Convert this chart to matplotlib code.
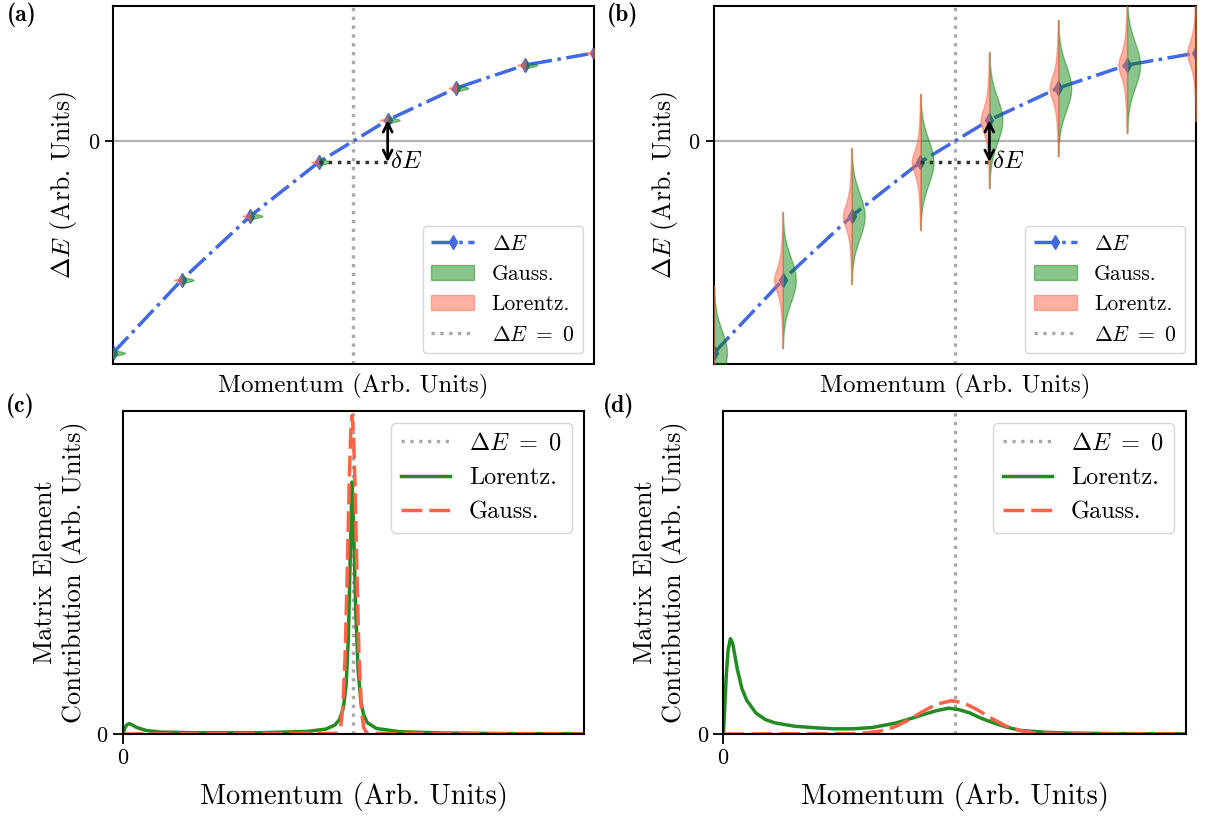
import numpy as np
import matplotlib
matplotlib.use("Agg")
import matplotlib.pyplot as plt
from matplotlib.patches import Patch
from matplotlib.lines import Line2D

plt.rcParams['font.family'] = 'serif'
plt.rcParams['font.serif'] = ['cmr10']
plt.rcParams['mathtext.fontset'] = 'cm'
plt.rcParams['axes.unicode_minus'] = False
plt.rcParams['axes.formatter.use_mathtext'] = True

# ---- (a)/(b): dispersion with violins ----
momentum = [0, 1, 2, 3, 4, 5, 6, 7]
delta_e = [-212, -139, -75, -21, 21, 53, 76, 88]
k_zero = 3.5

# half violin profiles (relative width) at relative heights 0, 0.1, ..., 1
profile_t = [0.0, 0.1, 0.2, 0.3, 0.4, 0.5, 0.6, 0.7, 0.8, 0.9, 1.0]
gauss_profile = [1.0, 0.955, 0.83, 0.66, 0.48, 0.32, 0.19, 0.105, 0.053, 0.024, 0.01]
lorentz_profile = [1.0, 0.85, 0.59, 0.39, 0.26, 0.19, 0.14, 0.105, 0.083, 0.066, 0.054]

# ---- (c): sharp case ----
c_k_lor = [0, 0.004, 0.008, 0.0135, 0.02, 0.03, 0.05, 0.08, 0.15, 0.3, 0.4, 0.44, 0.46,
           0.47, 0.478, 0.484, 0.489, 0.493, 0.497, 0.501, 0.505, 0.51, 0.516, 0.522,
           0.53, 0.55, 0.6, 0.7, 0.85, 1.0]
c_lor = [0, 0.018, 0.028, 0.032, 0.028, 0.02, 0.011, 0.006, 0.004, 0.004, 0.008, 0.015, 0.028,
         0.045, 0.08, 0.15, 0.3, 0.55, 0.78, 0.6, 0.38, 0.2, 0.1, 0.06,
         0.035, 0.017, 0.007, 0.003, 0.001, 0.001]
c_k_gau = [0, 0.465, 0.472, 0.477, 0.482, 0.487, 0.491, 0.494, 0.497, 0.5, 0.503, 0.507,
           0.512, 0.517, 0.522, 0.529, 1.0]
c_gau = [0, 0.002, 0.02, 0.083, 0.245, 0.53, 0.79, 0.93, 0.986, 0.93, 0.79, 0.53,
         0.245, 0.083, 0.02, 0.002, 0]

# ---- (d): broad case ----
d_k_lor = [0, 0.003, 0.006, 0.01, 0.015, 0.02, 0.025, 0.03, 0.04, 0.05, 0.07, 0.09, 0.112,
           0.154, 0.2, 0.238, 0.28, 0.322, 0.373, 0.41, 0.432, 0.46, 0.487, 0.51, 0.533,
           0.555, 0.575, 0.61, 0.642, 0.7, 0.743, 0.85, 1.0]
d_lor = [0, 0.09, 0.18, 0.26, 0.295, 0.28, 0.24, 0.2, 0.14, 0.105, 0.065, 0.045, 0.034,
         0.024, 0.019, 0.016, 0.016, 0.02, 0.034, 0.05, 0.06, 0.072, 0.08, 0.075, 0.065,
         0.05, 0.039, 0.022, 0.011, 0.005, 0.003, 0.001, 0.0005]
d_k_gau = [0, 0.28, 0.31, 0.34, 0.37, 0.40, 0.43, 0.46, 0.493, 0.52, 0.55, 0.58, 0.61,
           0.64, 0.67, 0.70, 0.74, 1.0]
d_gau = [0, 0.001, 0.0034, 0.0094, 0.022, 0.043, 0.069, 0.092, 0.103, 0.096, 0.074, 0.048,
         0.025, 0.011, 0.004, 0.0013, 0, 0]

zero_label = r'$\Delta E\ =\ 0$'

fig = plt.figure(figsize=(12.08, 8.21), dpi=100)
ax_a = fig.add_axes([0.0935, 0.5566, 0.398, 0.436])
ax_b = fig.add_axes([0.591, 0.5566, 0.399, 0.436])
ax_c = fig.add_axes([0.1018, 0.106, 0.3816, 0.3934])
ax_d = fig.add_axes([0.5989, 0.106, 0.3829, 0.3934])

t = np.array(profile_t)
t_full = np.concatenate([-t[::-1], t[1:]])
g_full = np.concatenate([np.array(gauss_profile)[::-1], gauss_profile[1:]])
l_full = np.concatenate([np.array(lorentz_profile)[::-1], lorentz_profile[1:]])


def dispersion_panel(ax, spread, g_width, l_width):
    ax.axhline(0, color='gray', alpha=0.6, lw=1.6, zorder=1)
    ax.axvline(k_zero, color='darkgray', ls=':', lw=2.4, zorder=1)
    ax.plot(momentum, delta_e, color='royalblue', ls='-.', lw=2.5, marker='d', ms=7, zorder=2)
    for k, e in zip(momentum, delta_e):
        y = e + spread * t_full
        ax.fill_betweenx(y, k, k + g_width * g_full, color='green', alpha=0.45, lw=1, zorder=3)
        ax.fill_betweenx(y, k - l_width * l_full, k, color='tomato', alpha=0.5, lw=1, zorder=3)
    ax.plot([momentum[3], momentum[4]], [delta_e[3], delta_e[3]], color='#333333', ls=':', lw=2.5, zorder=4)
    ax.annotate('', xy=(momentum[4], delta_e[3]), xytext=(momentum[4], delta_e[4]),
                arrowprops=dict(arrowstyle='<->', color='black', lw=2, shrinkA=0, shrinkB=0,
                                mutation_scale=16), zorder=5)
    ax.text(momentum[4] + 0.04, delta_e[3], r'$\delta E$', fontsize=18, va='center', ha='left', zorder=5)
    ax.set_xlim(0, 7)
    ax.set_ylim(-223, 135)
    ax.set_xticks([])
    ax.set_yticks([0])
    ax.tick_params(labelsize=16, length=6, width=1.3)
    ax.set_xlabel('Momentum (Arb. Units)', fontsize=18, labelpad=7)
    ax.set_ylabel(r'$\Delta E$ (Arb. Units)', fontsize=18.5, labelpad=6)
    for s in ax.spines.values():
        s.set_linewidth(1.5)
    handles = [
        Line2D([], [], color='royalblue', ls='-.', lw=2.5, marker='d', ms=7),
        Patch(facecolor='green', edgecolor='green', alpha=0.45),
        Patch(facecolor='tomato', edgecolor='tomato', alpha=0.5),
        Line2D([], [], color='darkgray', ls=':', lw=2.4),
    ]
    ax.legend(handles, [r'$\Delta E$', 'Gauss.', 'Lorentz.', zero_label],
              loc='lower right', fontsize=15.5)


def matrix_panel(ax, k_lor, lor, k_gau, gau):
    ax.axvline(0.5, color='darkgray', ls=':', lw=2.4, label=zero_label)
    ax.plot(k_lor, lor, color='forestgreen', lw=2.5, label='Lorentz.')
    ax.plot(k_gau, gau, color='tomato', ls='--', lw=2.5, dashes=(6, 2), label='Gauss.')
    ax.set_xlim(0, 1)
    ax.set_ylim(0, 1)
    ax.set_xticks([0])
    ax.set_yticks([0])
    ax.tick_params(labelsize=16, length=7, width=1.3)
    ax.set_xlabel('Momentum (Arb. Units)', fontsize=20.5, labelpad=10)
    ax.set_ylabel('Matrix Element\nContribution (Arb. Units)', fontsize=19, labelpad=6)
    for s in ax.spines.values():
        s.set_linewidth(1.5)
    ax.legend(loc='upper right', fontsize=17.5)


dispersion_panel(ax_a, 5, 0.175, 0.115)
dispersion_panel(ax_b, 68, 0.19, 0.13)
matrix_panel(ax_c, c_k_lor, c_lor, c_k_gau, c_gau)
matrix_panel(ax_d, d_k_lor, d_lor, d_k_gau, d_gau)

for lab, x, y in [('(a)', 0.006, 0.982), ('(b)', 0.502, 0.982),
                  ('(c)', 0.005, 0.506), ('(d)', 0.499, 0.506)]:
    fig.text(x, y, lab, fontsize=17, family='cmb10', va='center', ha='left')

fig.savefig('out.png', dpi=100)
